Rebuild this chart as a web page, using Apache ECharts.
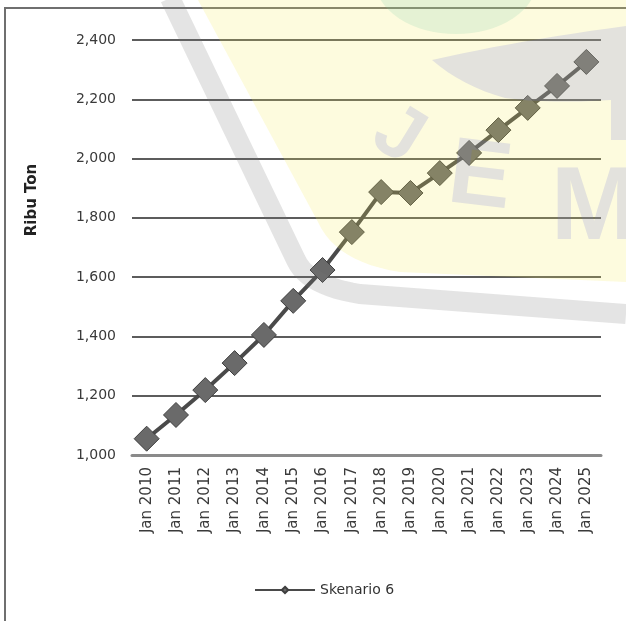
<!DOCTYPE html>
<html>
<head>
<meta charset="utf-8">
<style>
  html, body { margin: 0; padding: 0; background: #fff; }
  #chart { width: 626px; height: 621px; }
</style>
<script src="https://cdn.jsdelivr.net/npm/echarts@6/dist/echarts.min.js"></script>
</head>
<body>
<div id="chart"></div>
<script>
// Production projection, thousand tonnes
const years = ['Jan 2010', 'Jan 2011', 'Jan 2012', 'Jan 2013', 'Jan 2014', 'Jan 2015', 'Jan 2016', 'Jan 2017',
               'Jan 2018', 'Jan 2019', 'Jan 2020', 'Jan 2021', 'Jan 2022', 'Jan 2023', 'Jan 2024', 'Jan 2025'];
const skenario6 = [1055, 1135, 1219, 1310, 1405, 1520, 1624, 1752, 1887, 1884, 1951, 2019, 2096, 2171, 2245, 2326];
const yTicks = [1000, 1200, 1400, 1600, 1800, 2000, 2200, 2400];
const seriesName = 'Skenario 6';
const yTitle = 'Ribu Ton';

const chart = echarts.init(document.getElementById('chart'), null, { renderer: 'canvas' });
const fmt = v => v.toLocaleString('en-US');
const FONT = 'DejaVu Sans, Liberation Sans, Arial, sans-serif';

// sample a quadratic curve into polygon points
function quad(p0, p1, p2, n) {
  const pts = [];
  for (let i = 0; i <= n; i++) {
    const t = i / n, u = 1 - t;
    pts.push([u * u * p0[0] + 2 * u * t * p1[0] + t * t * p2[0],
              u * u * p0[1] + 2 * u * t * p1[1] + t * t * p2[1]]);
  }
  return pts;
}

const GREY = 'rgba(120,120,120,0.2)';
// bluish tint so the grey emblem parts read neutral on top of the yellow field
const GREY_ON_YELLOW = 'rgba(110,115,215,0.18)';
// faint watermark emblem laid over the plot
const mark = [
  { type: 'polygon', z: 100, silent: true,
    shape: { points: [[198, 0]].concat(quad([318, 222], [336, 262], [400, 272], 12), [[626, 282], [626, 0]]) },
    style: { fill: 'rgba(246,236,92,0.2)' } },
  { type: 'circle', z: 101, silent: true, x: 456, y: -20, scaleX: 1.5,
    shape: { cx: 0, cy: 0, r: 54 },
    style: { fill: 'rgba(120,205,165,0.18)' } },
  { type: 'polyline', z: 102, silent: true,
    shape: { points: [[170, -2]].concat(quad([296, 260], [308, 286], [360, 294], 12), [[626, 314]]) },
    style: { stroke: GREY, lineWidth: 20, fill: null } },
  { type: 'polygon', z: 102, silent: true,
    shape: { points: quad([432, 60], [520, 40], [626, 26], 12)
               .concat([[626, 140], [611, 140], [611, 100]], quad([611, 100], [550, 104], [505, 98], 8), quad([505, 98], [462, 86], [432, 60], 8)) },
    style: { fill: GREY_ON_YELLOW } },
  { type: 'text', z: 103, silent: true, x: 398, y: 136, rotation: -0.55,
    style: { text: 'J', font: 'bold 78px Liberation Sans, Arial', fill: GREY_ON_YELLOW,
             align: 'center', verticalAlign: 'middle' } },
  { type: 'text', z: 103, silent: true, x: 480, y: 179, rotation: -0.12,
    style: { text: 'E', font: 'bold 94px Liberation Sans, Arial', fill: GREY_ON_YELLOW,
             align: 'center', verticalAlign: 'middle' } },
  { type: 'text', z: 103, silent: true, x: 594, y: 210,
    style: { text: 'M', font: 'bold 104px Liberation Sans, Arial', fill: GREY_ON_YELLOW,
             align: 'center', verticalAlign: 'middle' } }
];

chart.setOption({
  animation: false,
  backgroundColor: '#ffffff',
  textStyle: { fontFamily: FONT },
  graphic: [
    // outer frame
    { type: 'polyline', z: 0, silent: true, shape: { points: [[5, 621], [5, 8], [626, 8]] },
      style: { stroke: '#6f6f6f', lineWidth: 2, fill: null } },
    { type: 'text', z: 5, x: 32, y: 200, rotation: Math.PI / 2,
      style: { text: yTitle, font: 'bold 15px ' + FONT, fill: '#222',
               align: 'center', verticalAlign: 'middle' } }
  ].concat(mark),
  grid: { left: 132, right: 25, top: 40, bottom: 166, containLabel: false },
  legend: {
    data: [seriesName],
    top: 578, left: 249,
    itemWidth: 60, itemHeight: 8, itemGap: 10,
    textStyle: { fontSize: 14, color: '#333', fontFamily: FONT }
  },
  xAxis: {
    type: 'category',
    data: years,
    boundaryGap: true,
    axisLine: { show: true, lineStyle: { color: '#8a8a8a', width: 3 } },
    axisTick: { show: false },
    axisLabel: { rotate: 90, interval: 0, fontSize: 15, color: '#3a3a3a', margin: 12 }
  },
  yAxis: {
    type: 'value',
    min: yTicks[0], max: yTicks[yTicks.length - 1], interval: 200,
    axisLine: { show: false },
    axisTick: { show: false },
    axisLabel: { fontSize: 14, color: '#3a3a3a', margin: 16, formatter: fmt },
    splitLine: { show: true, lineStyle: { color: '#5c5c5c', width: 2 } }
  },
  series: [{
    name: seriesName,
    type: 'line',
    data: skenario6,
    symbol: 'diamond',
    symbolSize: 25,
    lineStyle: { color: '#4a4a4a', width: 4 },
    itemStyle: { color: '#6a6a6a', borderColor: '#3f3f3f', borderWidth: 1 },
    z: 10
  }]
});
</script>
</body>
</html>
